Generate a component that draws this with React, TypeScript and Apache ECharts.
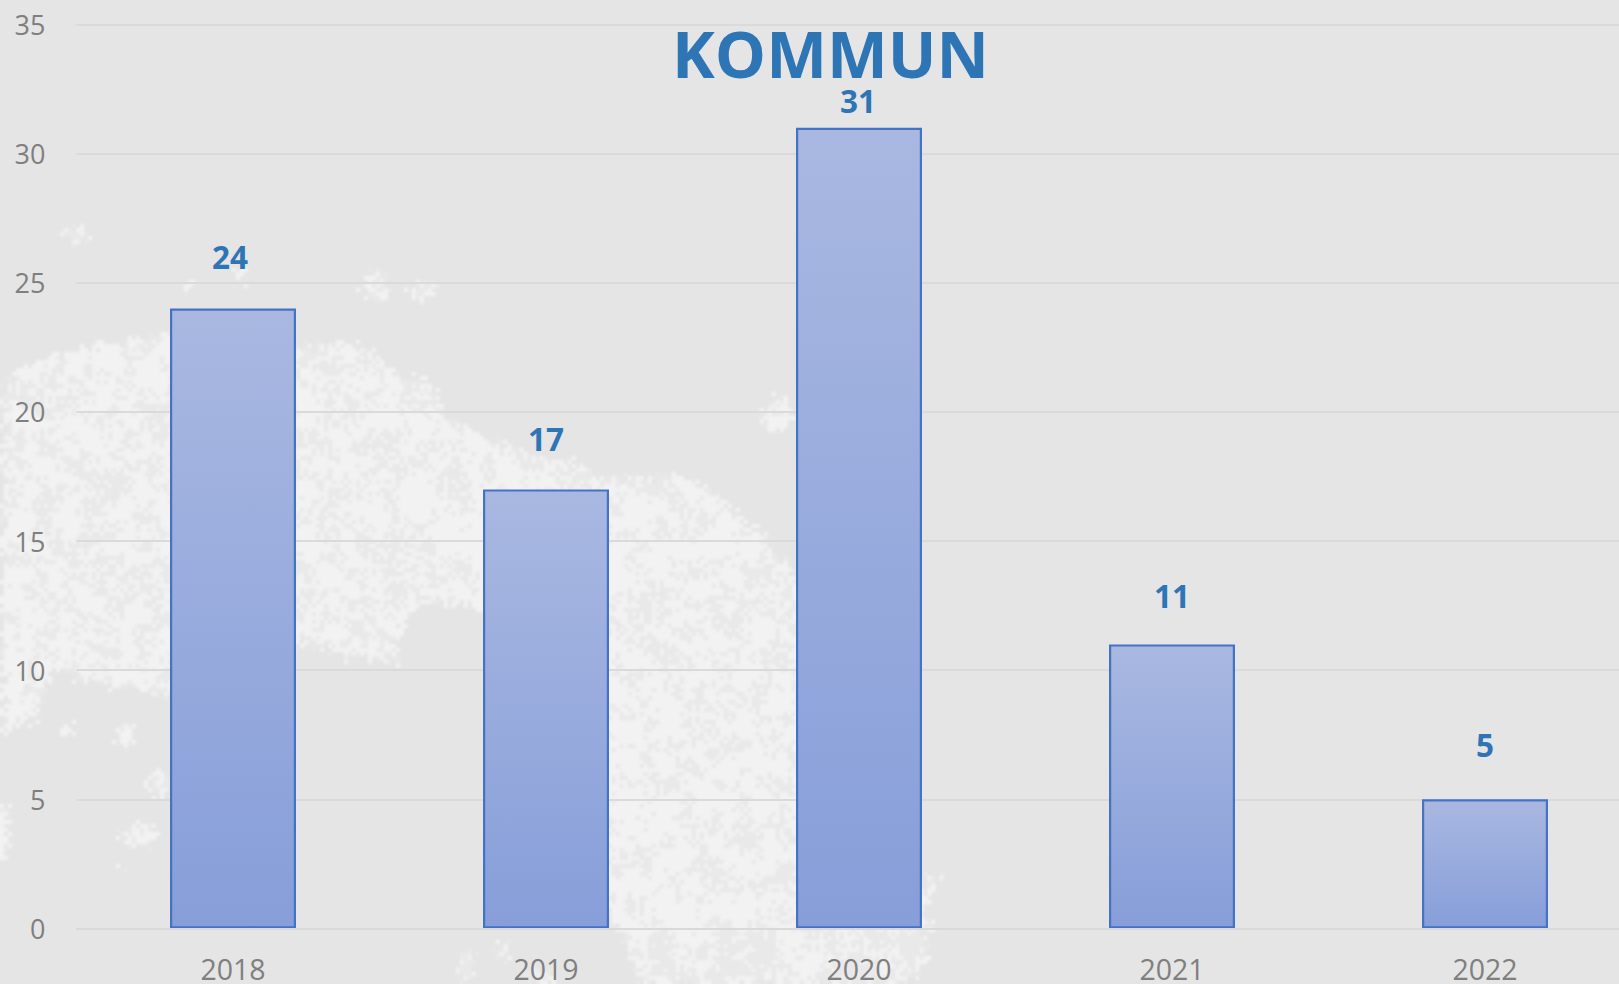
import React, { useEffect, useRef } from "react";
import * as echarts from "echarts";

const categories = ["2018", "2019", "2020", "2021", "2022"];
const kommunValues = [24, 17, 31, 11, 5];
const titleText = "KOMMUN";
const axisMax = 35;
const axisStep = 5;

const labelNudges = [
  [-3, -37],
  [0, -36],
  [-1, -12],
  [0, -34],
  [0, -40],
];

const landOutline = [
  [0, 392], [10, 373], [50, 353], [117, 340], [160, 330], [277, 343], [333, 343], [373, 347],
  [393, 373], [427, 380], [443, 413], [467, 427], [493, 440], [569, 461], [603, 475], [687, 475],
  [721, 499], [763, 537], [800, 580], [860, 740], [900, 860], [925, 900], [925, 960], [900, 984],
  [640, 984], [615, 930], [560, 800], [481, 606], [420, 600], [392, 640], [395, 662], [342, 655],
  [300, 640], [250, 660], [170, 690], [143, 692], [90, 680], [50, 667], [33, 717], [0, 733],
];

const landBlobs = [
  [75, 233, 12, 8], [373, 283, 13, 16], [420, 290, 14, 9], [238, 273, 8, 6], [188, 285, 7, 4],
  [137, 833, 19, 11], [157, 780, 12, 14], [123, 733, 8, 13], [63, 728, 6, 7], [120, 863, 4, 4],
  [775, 413, 14, 16], [930, 880, 7, 8], [925, 925, 6, 6], [500, 950, 8, 8], [465, 965, 10, 14],
  [540, 975, 14, 10], [0, 830, 7, 30],
];

function buildLandTexture(): string {
  const cell = 4;
  const cols = Math.ceil(1619 / cell);
  const rows = Math.ceil(984 / cell);
  const small = document.createElement("canvas");
  small.width = cols;
  small.height = rows;
  const sctx = small.getContext("2d");
  const canvas = document.createElement("canvas");
  canvas.width = 1619;
  canvas.height = 984;
  const ctx = canvas.getContext("2d");
  if (!sctx || !ctx) return "";

  const land = new Path2D();
  landOutline.forEach(([x, y], i) => (i ? land.lineTo(x, y) : land.moveTo(x, y)));
  land.closePath();

  const hash = (a: number, b: number) => {
    const v = Math.sin(a * 12.9898 + b * 78.233) * 43758.5453;
    return v - Math.floor(v);
  };
  const smooth = (x: number, y: number, size: number) => {
    const cx = Math.floor(x / size);
    const cy = Math.floor(y / size);
    const fx = x / size - cx;
    const fy = y / size - cy;
    const a = hash(cx, cy) * (1 - fx) + hash(cx + 1, cy) * fx;
    const b = hash(cx, cy + 1) * (1 - fx) + hash(cx + 1, cy + 1) * fx;
    return a * (1 - fy) + b * fy;
  };

  for (let r = 0; r < rows; r++) {
    for (let c = 0; c < cols; c++) {
      const x = c * cell;
      const y = r * cell;
      const px = x + (hash(c, r) - 0.5) * 12;
      const py = y + (hash(r + 7, c + 3) - 0.5) * 12;
      const inLand =
        ctx.isPointInPath(land, px, py) ||
        landBlobs.some(([bx, by, rx, ry]) => ((px - bx) / rx) ** 2 + ((py - by) / ry) ** 2 < 1);
      if (!inLand) continue;
      const n = 0.55 * smooth(x, y, 14) + 0.45 * hash(c + 11, r + 5);
      const limit = y > 930 ? 0.5 : 0.58;
      sctx.fillStyle = n > limit ? "#e9e9e9" : "#f2f2f2";
      sctx.fillRect(c, r, 1, 1);
    }
  }
  ctx.imageSmoothingEnabled = true;
  ctx.drawImage(small, 0, 0, 1619, 984);
  return canvas.toDataURL("image/png");
}

export default function App() {
  const ref = useRef<HTMLDivElement>(null);

  useEffect(() => {
    document.body.style.margin = "0";
    document.body.style.overflow = "hidden";
    if (!ref.current) return;
    const chart = echarts.init(ref.current, undefined, { renderer: "svg" });
    chart.setOption({
      animation: false,
      backgroundColor: "#e5e5e5",
      textStyle: { fontFamily: "'Open Sans'" },
      graphic: [
        {
          type: "image",
          z: -10,
          silent: true,
          style: { image: buildLandTexture(), x: 0, y: 0, width: 1619, height: 984 },
        },
      ],
      title: {
        text: titleText,
        left: 825.5,
        top: 15,
        textAlign: "center",
        textStyle: { color: "#2e75b6", fontSize: 64.5, fontWeight: "bold", fontFamily: "'Open Sans'" },
      },
      grid: { left: 76.5, top: 24.5, width: 1565, height: 904, containLabel: false },
      xAxis: {
        type: "category",
        data: categories,
        z: 5,
        axisTick: { show: false },
        axisLine: { show: true, lineStyle: { color: "#d9d9d9", width: 2 } },
        axisLabel: { color: "#7f7f7f", fontSize: 28.5, margin: 26, fontFamily: "'Open Sans'" },
      },
      yAxis: {
        type: "value",
        min: 0,
        max: axisMax,
        interval: axisStep,
        axisTick: { show: false },
        axisLine: { show: false },
        axisLabel: {
          color: "#7f7f7f",
          fontSize: 27,
          margin: 31,
          padding: [0, 0, 2, 0],
          fontFamily: "'Open Sans'",
        },
        splitLine: { lineStyle: { color: "#dadada", width: 2 } },
      },
      series: [
        {
          type: "bar",
          barWidth: 126,
          data: kommunValues.map((value, i) => ({
            value,
            label: { offset: labelNudges[i] },
          })),
          itemStyle: {
            color: new echarts.graphic.LinearGradient(0, 0, 0, 1, [
              { offset: 0, color: "#a9b8e1" },
              { offset: 1, color: "#879ed9" },
            ]),
            borderColor: "#4472c4",
            borderWidth: 2.2,
          },
          label: {
            show: true,
            position: "top",
            distance: 0,
            color: "#2e75b6",
            fontSize: 31.5,
            lineHeight: 30,
            fontWeight: "bold",
            fontFamily: "'Open Sans'",
          },
        },
      ],
    });
    return () => chart.dispose();
  }, []);

  return (
    <div style={{ width: 1619, height: 984, overflow: "hidden" }}>
      <div ref={ref} style={{ width: 1660, height: 984 }} />
    </div>
  );
}
